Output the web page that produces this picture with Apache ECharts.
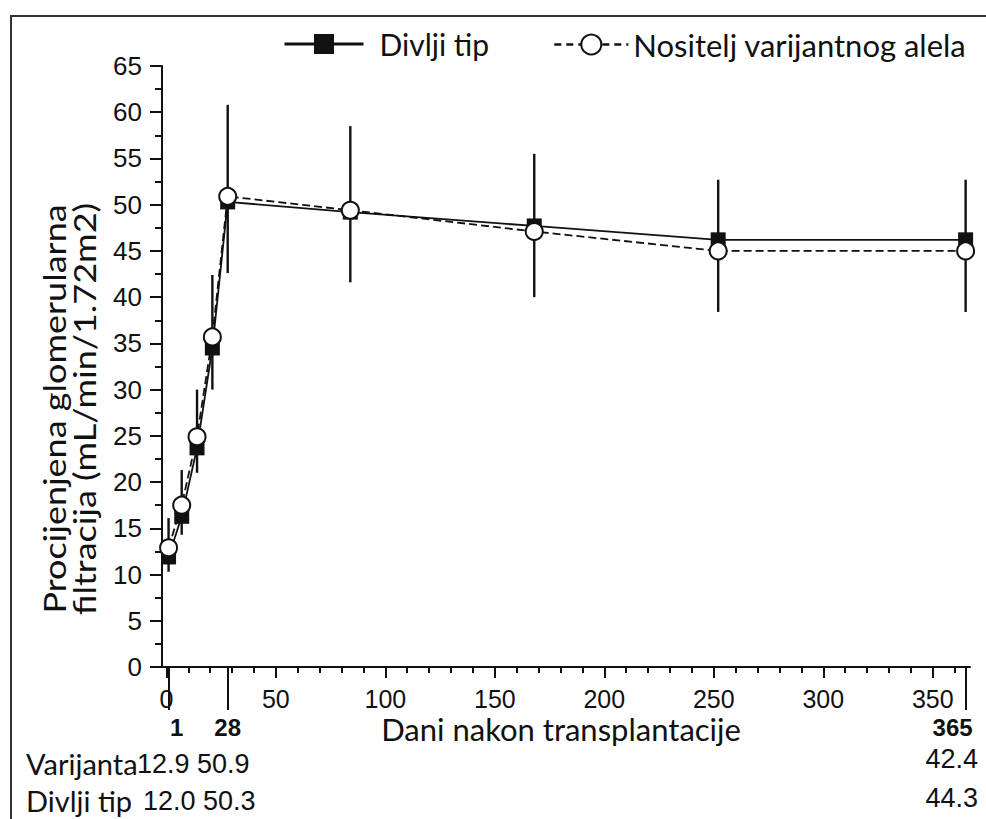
<!DOCTYPE html>
<html>
<head>
<meta charset="utf-8">
<script src="https://cdn.jsdelivr.net/npm/echarts@6/dist/echarts.min.js"></script>
<style>
html,body{margin:0;padding:0;background:#fff;}
#chart{width:986px;height:819px;}
</style>
</head>
<body>
<div id="chart"></div>
<script>
// ---- data ----
const days = [1, 7, 14, 21, 28, 84, 168, 252, 365];
const wildType = [11.9, 16.3, 23.7, 34.5, 50.3, 49.2, 47.7, 46.2, 46.2];
const variant = [12.9, 17.5, 24.9, 35.7, 50.9, 49.4, 47.1, 45.0, 45.0];
const barLow = [10.3, 14.3, 21.0, 30.0, 42.6, 41.6, 40.0, 38.4, 38.4];
const barHigh = [16.1, 21.3, 30.0, 42.4, 60.8, 58.5, 55.5, 52.7, 52.7];

const xMajorTicks = [0, 50, 100, 150, 200, 250, 300, 350];
const xMinorTicks = [10, 20, 30, 40, 60, 70, 80, 90, 110, 120, 130, 140, 160, 170, 180, 190,
  210, 220, 230, 240, 260, 270, 280, 290, 310, 320, 330, 340, 360];
const tableDays = [1, 28, 365];
const tableVariant = ['12.9', '50.9', '42.4'];
const tableWild = ['12.0', '50.3', '44.3'];

const nameWild = 'Divlji tip';
const nameVar = 'Nositelj varijantnog alela';

const chart = echarts.init(document.getElementById('chart'), null, {renderer: 'svg'});

const X_MIN = -2, X_MAX = 367;
const axisColor = '#111';
const arial = '"Liberation Sans", Arial, sans-serif';
const txtFont = 'Lato, "Open Sans", sans-serif';

function xAxisBase(extra) {
  return Object.assign({
    type: 'value', min: X_MIN, max: X_MAX, position: 'bottom',
    splitLine: {show: false},
    axisLine: {show: false}
  }, extra);
}

function numText(x, y, text, align) {
  return {type: 'text', x: x, y: y,
    style: {text: text, font: '27px ' + arial, fill: '#111', textAlign: align, textVerticalAlign: 'middle'}};
}

const option = {
  backgroundColor: '#fff',
  animation: false,
  grid: {left: 162, right: 16, top: 66, bottom: 152, containLabel: false},
  legend: [
    {
      data: [nameWild], left: 278, top: 24, itemWidth: 79, itemHeight: 25,
      lineStyle: {width: 3},
      textStyle: {fontFamily: txtFont, fontSize: 30, color: '#111', padding: [0, 0, 0, 11]}
    },
    {
      data: [nameVar], left: 548, top: 24, itemWidth: 74, itemHeight: 25, itemGap: 0,
      lineStyle: {width: 2.6, type: [7, 5]},
      textStyle: {fontFamily: txtFont, fontSize: 31, color: '#111', padding: [0, 0, 0, 0]}
    }
  ],
  xAxis: [
    xAxisBase({
      axisLine: {show: true, onZero: false, lineStyle: {color: axisColor, width: 2}},
      axisTick: {show: true, customValues: xMajorTicks, length: 11, lineStyle: {color: axisColor, width: 2}},
      axisLabel: {customValues: xMajorTicks, margin: 19, fontFamily: arial, fontSize: 25, color: '#111'}
    }),
    xAxisBase({
      axisTick: {show: true, customValues: xMinorTicks, length: 6, lineStyle: {color: axisColor, width: 2}},
      axisLabel: {show: false}
    }),
    xAxisBase({
      axisTick: {show: true, customValues: tableDays, length: 43, lineStyle: {color: axisColor, width: 2}},
      axisLabel: {
        customValues: tableDays, margin: 48, fontFamily: arial,
        fontWeight: 'bold', fontSize: 24, color: '#111',
        formatter: function (v) {
          if (v === 1) return '{a|1}';
          if (v === 365) return '{c|365}';
          return '{b|' + v + '}';
        },
        rich: {
          a: {fontFamily: arial, fontWeight: 'bold', fontSize: 24, color: '#111', padding: [0, 0, 0, 16]},
          b: {fontFamily: arial, fontWeight: 'bold', fontSize: 24, color: '#111'},
          c: {fontFamily: arial, fontWeight: 'bold', fontSize: 24, color: '#111', padding: [0, 26, 0, 0]}
        }
      }
    })
  ],
  yAxis: {
    type: 'value', min: 0, max: 65, interval: 5,
    splitLine: {show: false},
    axisLine: {show: true, onZero: false, lineStyle: {color: axisColor, width: 2}},
    axisTick: {show: true, length: 12, lineStyle: {color: axisColor, width: 2}},
    minorTick: {show: true, splitNumber: 2, length: 7, lineStyle: {color: axisColor, width: 2}},
    axisLabel: {margin: 20, fontFamily: arial, fontSize: 26, color: '#111'}
  },
  graphic: [
    {type: 'rect', shape: {x: 11, y: 16, width: 1000, height: 900}, style: {fill: 'none', stroke: '#333', lineWidth: 2}, silent: true, z: -1},
    {type: 'text', x: 69, y: 409, rotation: Math.PI / 2, scaleX: 1.2,
      style: {text: 'Procijenjena glomerularna\nfiltracija (mL/min/1.72m2)', font: '30px Lato, sans-serif',
        fill: '#111', textAlign: 'center', textVerticalAlign: 'middle', lineHeight: 30}},
    {type: 'text', x: 561, y: 729,
      style: {text: 'Dani nakon transplantacije', font: '31px Lato, sans-serif', fill: '#111', textAlign: 'center', textVerticalAlign: 'middle'}},
    {type: 'text', x: 26, y: 763,
      style: {text: 'Varijanta', font: '29px Lato, sans-serif', fill: '#111', textAlign: 'left', textVerticalAlign: 'middle'}},
    {type: 'text', x: 26, y: 800,
      style: {text: 'Divlji tip', font: '29px Lato, sans-serif', fill: '#111', textAlign: 'left', textVerticalAlign: 'middle'}},
    numText(137, 764, tableVariant[0], 'left'),
    numText(197, 764, tableVariant[1], 'left'),
    numText(143, 801, tableWild[0], 'left'),
    numText(203, 801, tableWild[1], 'left'),
    numText(978, 759, tableVariant[2], 'right'),
    numText(978, 798, tableWild[2], 'right')
  ],
  series: [
    {
      name: 'errorBars', type: 'custom', xAxisIndex: 0, yAxisIndex: 0, z: 1,
      data: days.map((d, i) => [d, barLow[i], barHigh[i]]),
      encode: {x: 0, y: [1, 2]},
      renderItem: function (params, api) {
        const p1 = api.coord([api.value(0), api.value(1)]);
        const p2 = api.coord([api.value(0), api.value(2)]);
        return {type: 'line', shape: {x1: p1[0], y1: p1[1], x2: p2[0], y2: p2[1]},
          style: {stroke: '#111', lineWidth: 2.4}};
      }
    },
    {
      name: nameWild, type: 'line', xAxisIndex: 0, z: 2,
      data: days.map((d, i) => [d, wildType[i]]),
      symbol: 'rect', symbolSize: 15, showAllSymbol: true,
      lineStyle: {color: '#111', width: 1.8, type: 'solid'},
      itemStyle: {color: '#111', borderColor: '#111', borderWidth: 0}
    },
    {
      name: nameVar, type: 'line', xAxisIndex: 0, z: 3,
      data: days.map((d, i) => [d, variant[i]]),
      symbol: 'circle', symbolSize: 17, showAllSymbol: true,
      lineStyle: {color: '#111', width: 1.8, type: [8, 4]},
      itemStyle: {color: '#fff', borderColor: '#111', borderWidth: 2}
    }
  ]
};
chart.setOption(option);
</script>
</body>
</html>
